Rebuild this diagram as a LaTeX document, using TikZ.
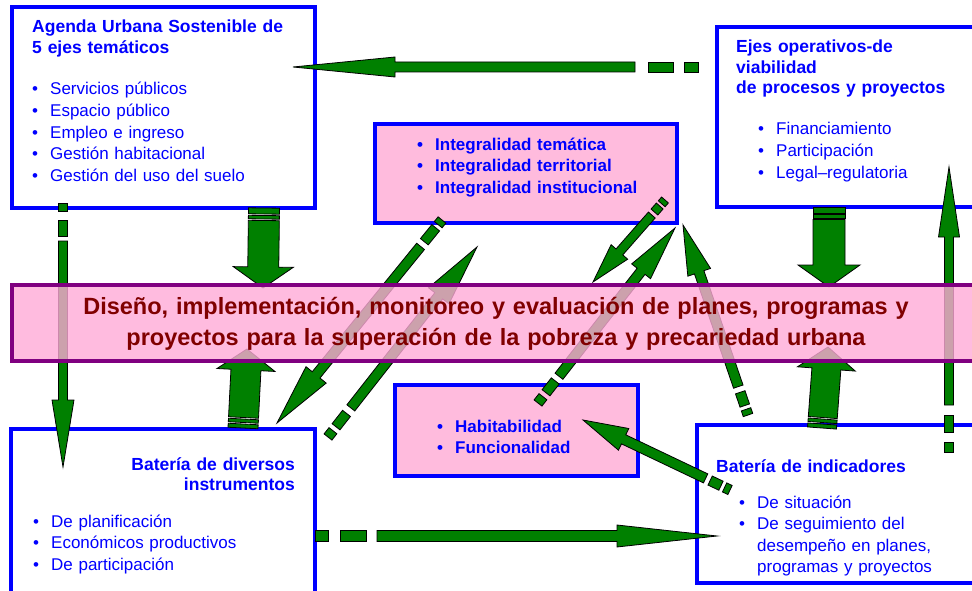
\documentclass[tikz,border=0pt]{standalone}
\usepackage{fontspec}
\setmainfont{Liberation Sans}
\usetikzlibrary{calc}

\definecolor{verde}{RGB}{0,128,0}
\definecolor{azul}{RGB}{0,0,255}
\definecolor{rosa}{RGB}{255,187,221}
\definecolor{rosafuerte}{RGB}{255,170,215}
\definecolor{morado}{RGB}{128,0,128}
\definecolor{granate}{RGB}{128,0,0}

% #1 inicio, #2 punta, #3 inicio del cuerpo, #4 medio ancho, #5 medio ancho punta, #6 largo punta
\newcommand\flecha[6]{%
  \coordinate (fa) at ($(#1)!#3!(#2)$);
  \coordinate (fb) at ($(#2)!#6!(#1)$);
  \filldraw[flechas] ($(fa)!#4!90:(#2)$) -- ($(fb)!#4!90:(#2)$) -- ($(fb)!#5!90:(#2)$) -- (#2)
    -- ($(fb)!#5!-90:(#2)$) -- ($(fb)!#4!-90:(#2)$) -- ($(fa)!#4!-90:(#2)$) -- cycle;}
% trozo de cola: #1 inicio, #2 punta, #3 y #4 distancias, #5 medio ancho
\newcommand\trozo[5]{%
  \coordinate (ta) at ($(#1)!#3!(#2)$);
  \coordinate (tb) at ($(#1)!#4!(#2)$);
  \filldraw[flechas] ($(ta)!#5!90:(#2)$) -- ($(tb)!#5!90:(#2)$) -- ($(tb)!#5!-90:(#2)$) -- ($(ta)!#5!-90:(#2)$) -- cycle;}
\newcommand\punto{\makebox[18pt][l]{\textbullet}}

\begin{document}
\begin{tikzpicture}[x=1pt,y=-1pt,
  caja/.style={draw=azul,line width=3.5pt,fill=white,inner sep=0pt,outer sep=0pt,anchor=north west},
  cajarosa/.style={caja,fill=rosa},
  titulo/.style={text=azul,font=\fontsize{17.5}{20.5}\selectfont\bfseries,inner sep=0pt,align=left,text width=260pt,anchor=base west},
  lista/.style={text=azul,font=\fontsize{17}{21.6}\selectfont,inner sep=0pt,align=left,text width=260pt,anchor=base west},
  listab/.style={lista,font=\fontsize{17}{21.6}\selectfont\bfseries},
  banda/.style={draw=morado,line width=3.5pt,fill=rosafuerte,fill opacity=0.8,inner sep=0pt,outer sep=0pt,anchor=north west},
  flechas/.style={fill=verde,draw=black,line width=0.8pt}]
\clip (0,0) rectangle (972,591);
\fill[white] (0,0) rectangle (972,591);

\node[caja,minimum width=303,minimum height=201] (agenda) at (12,7) {};
\node[caja,minimum width=270,minimum height=180] (ejes) at (717,27) {};
\node[cajarosa,minimum width=302,minimum height=99] (integral) at (375,124) {};
\node[caja,minimum width=304,minimum height=180] (instrum) at (11,429) {};
\node[cajarosa,minimum width=243,minimum height=91] (habita) at (395,385) {};
\node[caja,minimum width=290,minimum height=158] (indica) at (697,425) {};

\node[titulo] (agendaT) at (32,33) {Agenda Urbana Sostenible de\\5 ejes temáticos};
\node[lista] (agendaL) at (32,95) {\punto Servicios públicos\\\punto Espacio público\\\punto Empleo e ingreso\\\punto Gestión habitacional\\\punto Gestión del uso del suelo};
\node[titulo] (ejesT) at (736,53) {Ejes operativos-de\\viabilidad\\de procesos y proyectos};
\node[lista] (ejesL) at (758,135) {\punto Financiamiento\\\punto Participación\\\punto Legal--regulatoria};
\node[listab] (integralL) at (417,150) {\punto Integralidad temática\\\punto Integralidad territorial\\\punto Integralidad institucional};
\node[titulo,align=right,anchor=base east] (instrumT) at (295,470) {Batería de diversos\\instrumentos};
\node[lista] (instrumL) at (33,527) {\punto De planificación\\\punto Económicos productivos\\\punto De participación};
\node[listab] (habitaL) at (437,432) {\punto Habitabilidad\\\punto Funcionalidad};
\node[titulo] (indicaT) at (716,472) {Batería de indicadores};
\node[lista] (indicaL) at (739,508) {\punto De situación\\\punto De seguimiento del\\\makebox[18pt]{}desempeño en planes,\\\makebox[18pt]{}programas y proyectos};

\coordinate (a1) at (700,67);  \coordinate (a2) at (293,67);
\trozo{a1}{a2}{2pt}{16pt}{5pt}
\trozo{a1}{a2}{27pt}{52pt}{5pt}
\flecha{a1}{a2}{65pt}{5pt}{10pt}{102pt}

\coordinate (b1) at (264,208); \coordinate (b2) at (263,288);
\trozo{b1}{b2}{0pt}{6pt}{15.5pt}
\trozo{b1}{b2}{7.5pt}{11pt}{15.5pt}
\flecha{b1}{b2}{12.5pt}{15.5pt}{30pt}{21pt}

\coordinate (c1) at (243,428); \coordinate (c2) at (247,349);
\trozo{c1}{c2}{0pt}{4pt}{15pt}
\trozo{c1}{c2}{5.5pt}{9pt}{15pt}
\flecha{c1}{c2}{10.5pt}{15pt}{29pt}{21pt}

\coordinate (d1) at (829,207); \coordinate (d2) at (829,287);
\trozo{d1}{d2}{0pt}{6pt}{16pt}
\trozo{d1}{d2}{7.5pt}{11pt}{16pt}
\flecha{d1}{d2}{12.5pt}{16pt}{31pt}{22pt}

\coordinate (e1) at (822,428); \coordinate (e2) at (828,347);
\trozo{e1}{e2}{0pt}{4pt}{14.5pt}
\trozo{e1}{e2}{5.5pt}{9pt}{14.5pt}
\flecha{e1}{e2}{10.5pt}{14.5pt}{29pt}{22pt}

\coordinate (r1) at (949,455); \coordinate (r2) at (949,167);
\trozo{r1}{r2}{3pt}{13pt}{4.5pt}
\trozo{r1}{r2}{23pt}{40pt}{4.5pt}
\flecha{r1}{r2}{50pt}{4.5pt}{10.5pt}{70pt}

\coordinate (l1) at (63,203); \coordinate (l2) at (63,467);
\trozo{l1}{l2}{0pt}{8pt}{4.5pt}
\trozo{l1}{l2}{17pt}{33pt}{4.5pt}
\flecha{l1}{l2}{38pt}{4.5pt}{11pt}{67pt}

\coordinate (g1) at (315,536); \coordinate (g2) at (717,536);
\trozo{g1}{g2}{0pt}{13pt}{5.5pt}
\trozo{g1}{g2}{25pt}{51pt}{5.5pt}
\flecha{g1}{g2}{62pt}{5.5pt}{11pt}{100pt}

\coordinate (h1) at (442,220); \coordinate (h2) at (277,423);
\trozo{h1}{h2}{0pt}{6pt}{5pt}
\trozo{h1}{h2}{10pt}{28pt}{5pt}
\flecha{h1}{h2}{34pt}{5pt}{13pt}{62pt}

\coordinate (i1) at (328,437); \coordinate (i2) at (477,247);
\trozo{i1}{i2}{0pt}{8pt}{5pt}
\trozo{i1}{i2}{13pt}{30pt}{5pt}
\flecha{i1}{i2}{37pt}{5pt}{13pt}{62pt}

\coordinate (j1) at (665,200); \coordinate (j2) at (593,282);
\trozo{j1}{j2}{0pt}{5pt}{4.5pt}
\trozo{j1}{j2}{8pt}{16pt}{4.5pt}
\flecha{j1}{j2}{20pt}{4.5pt}{11pt}{40pt}

\coordinate (k1) at (538,403); \coordinate (k2) at (675,228);
\trozo{k1}{k2}{0pt}{8pt}{5pt}
\trozo{k1}{k2}{13pt}{28pt}{5pt}
\flecha{k1}{k2}{34pt}{5pt}{12pt}{55pt}

\coordinate (m1) at (748,415); \coordinate (m2) at (683,225);
\trozo{m1}{m2}{0pt}{6pt}{5pt}
\trozo{m1}{m2}{10pt}{24pt}{5pt}
\flecha{m1}{m2}{30pt}{5pt}{12pt}{50pt}

\coordinate (n1) at (730,490); \coordinate (n2) at (583,420);
\trozo{n1}{n2}{0pt}{6pt}{5pt}
\trozo{n1}{n2}{10pt}{22pt}{5pt}
\flecha{n1}{n2}{27pt}{5pt}{12pt}{45pt}

\node[banda,minimum width=975,minimum height=76] (diseno) at (12,285) {};
\node[text=granate,font=\fontsize{23.5}{31}\selectfont\bfseries,align=center,text width=940pt,inner sep=0pt,anchor=base] (disenoT) at (496,314)
  {Diseño, implementación, monitoreo y evaluación de planes, programas y\\proyectos para la superación de la pobreza y precariedad urbana};
\end{tikzpicture}
\end{document}
